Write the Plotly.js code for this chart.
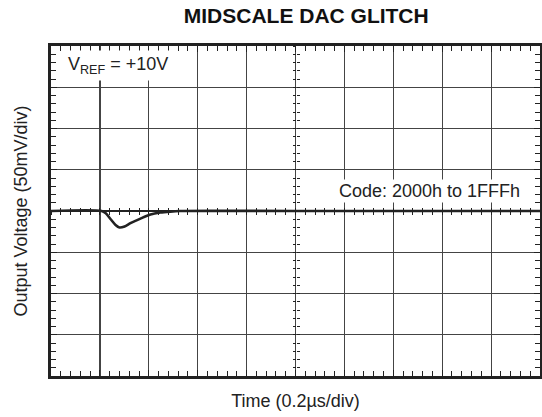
<!DOCTYPE html>
<html>
<head>
<meta charset="utf-8">
<script src="https://cdn.plot.ly/plotly-3.0.1.min.js"></script>
<style>html,body{margin:0;padding:0;background:#fff;}#chart{width:542px;height:417px;}#shield{position:absolute;left:0;top:0;width:542px;height:417px;background:transparent;}</style>
</head>
<body>
<div id="chart"></div>
<div id="shield"></div>
<script>
// Time in microseconds, output voltage deviation in mV
const timeUs = [0, 0.207, 0.224, 0.244, 0.264, 0.280, 0.301, 0.325, 0.366, 0.407, 0.447, 0.488, 0.528, 1.0, 2.0];
const voltageMv = [0, 0, -2.8, -10, -16.9, -20, -18.8, -14.8, -9.2, -4.3, -1.9, -0.7, 0, 0, 0];

const titleText = 'MIDSCALE DAC GLITCH';
const xTitle = 'Time (0.2µs/div)';
const yTitle = 'Output Voltage (50mV/div)';
const vrefLabel = 'V<sub>REF</sub> = +10V';
const codeLabel = 'Code: 2000h to 1FFFh';

const xRange = [0, 2.0];
const yRange = [-200, 200];

const FONT = 'Liberation Sans, Arial, Helvetica, sans-serif';
const INK = '#222';
const GRID = '#444';

const traces = [
  {x: timeUs, y: voltageMv, type: 'scatter', mode: 'lines',
   line: {color: INK, width: 2.6, shape: 'spline', smoothing: 0.8},
   showlegend: false, hoverinfo: 'skip'},
  {x: [null], y: [null], xaxis: 'x2', yaxis: 'y', showlegend: false, mode: 'lines'},
  {x: [null], y: [null], xaxis: 'x3', yaxis: 'y', showlegend: false, mode: 'lines'},
  {x: [null], y: [null], xaxis: 'x', yaxis: 'y2', showlegend: false, mode: 'lines'},
  {x: [null], y: [null], xaxis: 'x', yaxis: 'y3', showlegend: false, mode: 'lines'}
];

const centerX = (tk) => ({
  overlaying: 'x', anchor: 'free', position: 0.5, side: 'bottom', range: xRange,
  showgrid: false, zeroline: false, showline: false, showticklabels: false,
  ticks: tk, ticklen: 3, tickcolor: INK, tickwidth: 1, dtick: 0.2, tick0: 0,
  minor: {dtick: 0.04, ticks: tk, ticklen: 3, tickcolor: INK, tickwidth: 1, showgrid: false}
});
const centerY = (tk) => ({
  overlaying: 'y', anchor: 'free', position: 0.5, side: 'left', range: yRange,
  showgrid: false, zeroline: false, showline: false, showticklabels: false,
  ticks: tk, ticklen: 3, tickcolor: INK, tickwidth: 1, dtick: 50, tick0: 0,
  minor: {dtick: 10, ticks: tk, ticklen: 3, tickcolor: INK, tickwidth: 1, showgrid: false}
});

const layout = {
  width: 542, height: 417,
  margin: {l: 51, r: 2, t: 46, b: 41, pad: 0},
  paper_bgcolor: '#fff', plot_bgcolor: '#fff',
  font: {family: FONT, color: INK, size: 18},
  title: {text: '<b>' + titleText + '</b>', font: {family: FONT, size: 21, color: '#111'},
          xref: 'container', x: 0.565, xanchor: 'center', yref: 'container', y: 0.962, yanchor: 'middle'},
  xaxis: {
    range: xRange, dtick: 0.2, tick0: 0, showgrid: true, gridcolor: GRID, gridwidth: 1.2,
    zeroline: false, showline: true, linecolor: INK, linewidth: 3, mirror: 'ticks',
    ticks: 'inside', ticklen: 6, tickcolor: INK, tickwidth: 1, showticklabels: false,
    minor: {dtick: 0.04, ticks: 'inside', ticklen: 5, tickcolor: INK, tickwidth: 1, showgrid: false},
    title: {text: xTitle, font: {family: FONT, size: 18, color: INK}, standoff: 17},
    fixedrange: true
  },
  yaxis: {
    range: yRange, dtick: 50, tick0: 0, showgrid: true, gridcolor: GRID, gridwidth: 1.2,
    zeroline: true, zerolinecolor: INK, zerolinewidth: 1.5, showline: true, linecolor: INK, linewidth: 3, mirror: 'ticks',
    ticks: 'inside', ticklen: 6, tickcolor: INK, tickwidth: 1, showticklabels: false,
    minor: {dtick: 10, ticks: 'inside', ticklen: 5, tickcolor: INK, tickwidth: 1, showgrid: false},
    title: {text: yTitle, font: {family: FONT, size: 18, color: INK}, standoff: 16},
    fixedrange: true
  },
  xaxis2: centerX('outside'),
  xaxis3: centerX('inside'),
  yaxis2: centerY('outside'),
  yaxis3: centerY('inside'),
  annotations: [
    {text: vrefLabel, xref: 'x', yref: 'y', x: 0.055, y: 176, xanchor: 'left', yanchor: 'middle',
     showarrow: false, bgcolor: '#fff', borderpad: 3, font: {family: FONT, size: 18, color: INK}},
    {text: codeLabel, xref: 'x', yref: 'y', x: 1.926, y: 24, xanchor: 'right', yanchor: 'middle',
     showarrow: false, bgcolor: '#fff', borderpad: 1, font: {family: FONT, size: 18, color: INK}}
  ],
  showlegend: false
};

Plotly.newPlot('chart', traces, layout, {displayModeBar: false, staticPlot: true});
</script>
</body>
</html>
